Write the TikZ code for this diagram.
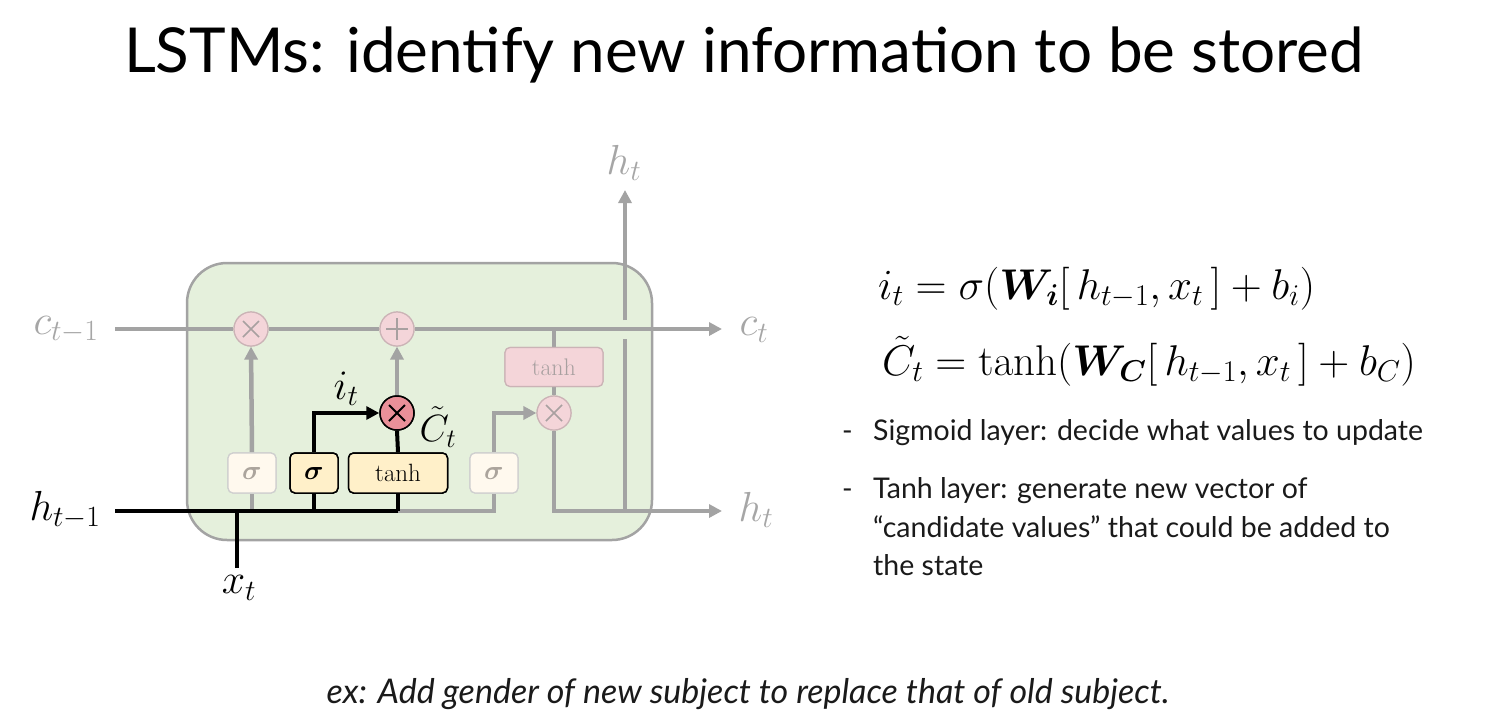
\RequirePackage{fix-cm}
\documentclass[tikz,border=0pt]{standalone}
\usepackage{amsmath,bm}
\usepackage[no-math]{fontspec}
\setmainfont{Lato}
\usetikzlibrary{arrows.meta,calc}
\definecolor{lg}{HTML}{A3A3A3}
\definecolor{lgtext}{HTML}{A6A6A6}
\definecolor{cellfill}{HTML}{E5F0DC}
\definecolor{faintY}{HTML}{FFF9EE}
\definecolor{faintBorder}{HTML}{CFCFCF}
\definecolor{faintT}{HTML}{ABA49C}
\definecolor{actY}{HTML}{FFF0C9}
\definecolor{pinkF}{HTML}{F4D5D9}
\definecolor{pinkB}{HTML}{CBB3B6}
\definecolor{pinkT}{HTML}{A8A0A0}
\definecolor{redF}{HTML}{EA9099}
\definecolor{txt}{HTML}{1A1A1A}
\tikzset{
  gline/.style={draw=lg, line width=4.5pt},
  bline/.style={draw=black, line width=4pt},
  tip/.style={-{Triangle[length=13pt,width=13pt]}},
  gatebox/.style={rectangle, rounded corners=5pt, minimum width=48pt, minimum height=40pt, inner sep=0pt, font=\fontsize{27}{29}\selectfont},
  faintbox/.style={gatebox, draw=faintBorder, fill=faintY, line width=1.2pt, text=faintT},
  actbox/.style={gatebox, draw=black, fill=actY, line width=1.5pt, text=black},
  pinkbox/.style={gatebox, draw=pinkB, fill=pinkF, line width=1.2pt, text=pinkT},
  faintcirc/.style={circle, minimum size=34pt, inner sep=0pt, draw=pinkB, fill=pinkF, line width=1.2pt},
  actcirc/.style={circle, minimum size=34pt, inner sep=0pt, draw=black, fill=redF, line width=1.5pt},
  mlabel/.style={font=\fontsize{42}{46}\selectfont, inner sep=0pt},
  bullet/.style={anchor=base west, inner sep=0pt, font=\fontsize{28.5}{32}\selectfont, text=txt},
  eqn/.style={anchor=base west, inner sep=0pt, font=\fontsize{43}{46}\selectfont},
}
\begin{document}
\begin{tikzpicture}[x=1pt,y=-1pt]
\useasboundingbox (0,0) rectangle (1493,726);
% title
\node[anchor=base, inner sep=0pt, font=\fontsize{62}{68}\selectfont] (title) at (744,72) {LSTMs: identify new information to be stored};
% cell
\draw[draw=lg, fill=cellfill, line width=2.5pt, rounded corners=40pt] (187,263) rectangle (652,540);
% coordinates
\coordinate (cin) at (115,329);
\coordinate (cout) at (722,329);
\coordinate (hin) at (115,511);
\coordinate (hout) at (722,511);
\coordinate (xin) at (237,568);
\coordinate (xj) at (237,511);
\coordinate (fj) at (252,511);
\coordinate (ij) at (314,511);
\coordinate (tj) at (398,511);
\coordinate (oj) at (494,511);
\coordinate (ik) at (314,413);
\coordinate (ok) at (494,413);
\coordinate (cj) at (554,329);
\coordinate (hj) at (554,511);
\coordinate (vb) at (625,511);
\coordinate (vg1) at (625,339);
\coordinate (vg2) at (625,320);
\coordinate (vt) at (625,190);
% nodes
\node[faintbox] (fs) at (252,473) {$\bm{\sigma}$};
\node[actbox] (is) at (314,473) {$\bm{\sigma}$};
\node[actbox, minimum width=99pt, font=\fontsize{25}{27}\selectfont] (tg) at (398,473) {$\mathrm{tanh}$};
\node[faintbox] (os) at (494,473) {$\bm{\sigma}$};
\node[pinkbox, minimum width=98pt, minimum height=39pt, font=\fontsize{24}{26}\selectfont] (ot) at (554,367) {$\mathrm{tanh}$};
\node[faintcirc] (fx) at (251,329) {};
\node[faintcirc] (pl) at (397,329) {};
\node[actcirc] (ix) at (397,413) {};
\node[faintcirc] (ox) at (554,413) {};
% gray connectors
\draw[gline, tip] (cin) -- (fx) -- (pl) -- (cout);
\draw[gline] (tj) -- (oj) -- (os.south);
\draw[gline] (fj) -- (fs.south);
\draw[gline, tip] (fs.north) -- (fx.south);
\draw[gline, tip] (ix.north) -- (pl.south);
\draw[gline] (cj) -- (ot.north);
\draw[gline] (ot.south) -- (ox.north);
\draw[gline, tip] (os.north) -- (ok) -- (ox.west);
\draw[gline, tip] (ox.south) -- (hj) -- (hout);
\draw[gline] (vb) -- (vg1);
\draw[gline, tip] (vg2) -- (vt);
% black connectors
\draw[bline] (hin) -- (tj);
\draw[bline] (xin) -- (xj);
\draw[bline] (ij) -- (is.south);
\draw[bline, tip] (is.north) -- (ik) -- (ix.west);
\draw[bline] (tj) -- (tg.south);
\draw[bline] (tg.north) -- (ix.south);
% redraw nodes on top
\node[faintbox] at (fs) {$\bm{\sigma}$};
\node[actbox] at (is) {$\bm{\sigma}$};
\node[actbox, minimum width=99pt, font=\fontsize{25}{27}\selectfont] at (tg) {$\mathrm{tanh}$};
\node[faintbox] at (os) {$\bm{\sigma}$};
\node[pinkbox, minimum width=98pt, minimum height=39pt, font=\fontsize{24}{26}\selectfont] at (ot) {$\mathrm{tanh}$};
\node[faintcirc] at (fx) {};
\node[faintcirc] at (pl) {};
\node[actcirc] at (ix) {};
\node[faintcirc] at (ox) {};
% symbols
\draw[pinkT, line width=1.6pt] ($(fx)+(-8,-8)$) -- ($(fx)+(8,8)$) ($(fx)+(-8,8)$) -- ($(fx)+(8,-8)$);
\draw[pinkT, line width=1.6pt] ($(ox)+(-8,-8)$) -- ($(ox)+(8,8)$) ($(ox)+(-8,8)$) -- ($(ox)+(8,-8)$);
\draw[black, line width=1.8pt] ($(ix)+(-8,-8)$) -- ($(ix)+(8,8)$) ($(ix)+(-8,8)$) -- ($(ix)+(8,-8)$);
\draw[pinkT, line width=1.6pt] ($(pl)+(-11,0)$) -- ($(pl)+(11,0)$) ($(pl)+(0,-11)$) -- ($(pl)+(0,11)$);
% labels
\node[mlabel, text=lgtext] (lc0) at (66,330) {$c_{t-1}$};
\node[mlabel, text=lgtext] (lc1) at (754,330) {$c_t$};
\node[mlabel, text=black] (lh0) at (65,510) {$h_{t-1}$};
\node[mlabel, text=lgtext] (lh1) at (756,510) {$h_t$};
\node[mlabel, text=lgtext] (lh2) at (624,163) {$h_t$};
\node[mlabel, text=black] (lx) at (239,588) {$x_t$};
\node[mlabel, text=black] (li) at (346,389) {$i_t$};
\node[mlabel, text=black, font=\fontsize{38}{42}\selectfont] (lct) at (438,427) {$\tilde{C}_t$};
% equations
\node[eqn] (eq1) at (878,299) {$i_t = \sigma(\bm{W}_{\bm{i}}[\,h_{t-1}, x_t\,] + b_i)$};
\node[eqn] (eq2) at (882,375) {$\tilde{C}_t = \tanh(\bm{W}_{\bm{C}}[\,h_{t-1}, x_t\,] + b_C)$};
% bullets
\node[bullet] (d1) at (842,440) {-};
\node[bullet] (b1) at (873,440) {Sigmoid layer: decide what values to update};
\node[bullet] (d2) at (842,498) {-};
\node[bullet] (b2) at (873,498) {Tanh layer: generate new vector of};
\node[bullet] (b3) at (873,537) {“candidate values” that could be added to};
\node[bullet] (b4) at (873,575) {the state};
% bottom
\node[anchor=base, inner sep=0pt, font=\fontsize{34}{38}\selectfont\itshape, text=txt] (ex) at (748,703) {ex: Add gender of new subject to replace that of old subject.};
\end{tikzpicture}
\end{document}
